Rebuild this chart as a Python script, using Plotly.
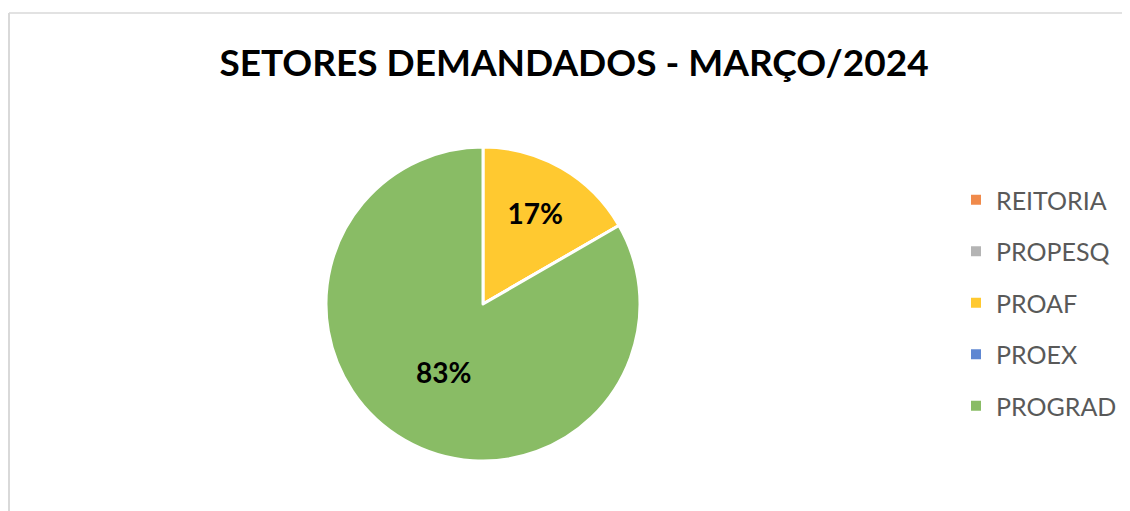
import plotly.graph_objects as go

labels = ["REITORIA", "PROPESQ", "PROAF", "PROEX", "PROGRAD"]
values = [0, 0, 1, 0, 5]
colors = ["#F08A4B", "#B4B4B4", "#FFC930", "#5F87D2", "#89BC65"]
title_text = "SETORES DEMANDADOS - MARÇO/2024"

# page has an 8px body margin; work in page pixel coords and convert
OFF = 8
W, H = 1130 - OFF, 511 - OFF


def px(x):
    return (x - OFF) / W


def py(y):
    return (511 - y) / H


fig = go.Figure()
fig.add_trace(go.Pie(
    labels=labels, values=values, sort=False, direction="clockwise", rotation=0,
    marker=dict(colors=colors, line=dict(color="white", width=3)),
    texttemplate="%{percent:.0%}", textposition="inside",
    insidetextorientation="horizontal",
    textfont=dict(family="Lato", size=28, color="black", weight="bold"),
    showlegend=False, hoverinfo="label+percent",
    domain=dict(x=[px(326), px(640)], y=[py(461), py(147)]),
))

for lab, col in zip(labels, colors):
    fig.add_trace(go.Scatter(
        x=[None], y=[None], mode="markers", name=lab, legendgroup=lab,
        marker=dict(symbol="square", size=10, color=col),
    ))

fig.update_layout(
    width=W, height=H,
    margin=dict(l=0, r=0, t=0, b=0),
    paper_bgcolor="white", plot_bgcolor="white",
    xaxis=dict(visible=False), yaxis=dict(visible=False),
    title=dict(text=title_text, x=px(574), xanchor="center", y=1 - (63 - OFF) / H, yanchor="middle",
               yref="container", xref="container",
               font=dict(family="Lato", size=37, color="black", weight="bold")),
    legend=dict(x=px(956), xanchor="left", y=py(303), yanchor="middle",
                tracegroupgap=16, font=dict(family="Lato", size=25, color="#595959"),
                bgcolor="rgba(0,0,0,0)"),
    shapes=[
        dict(type="line", xref="paper", yref="paper", x0=px(9), x1=px(9), y0=0, y1=py(13),
             line=dict(color="#D9D9D9", width=2)),
        dict(type="line", xref="paper", yref="paper", x0=px(9), x1=1, y0=py(13), y1=py(13),
             line=dict(color="#D9D9D9", width=1.5)),
    ],
)

fig.write_html("out.html")
